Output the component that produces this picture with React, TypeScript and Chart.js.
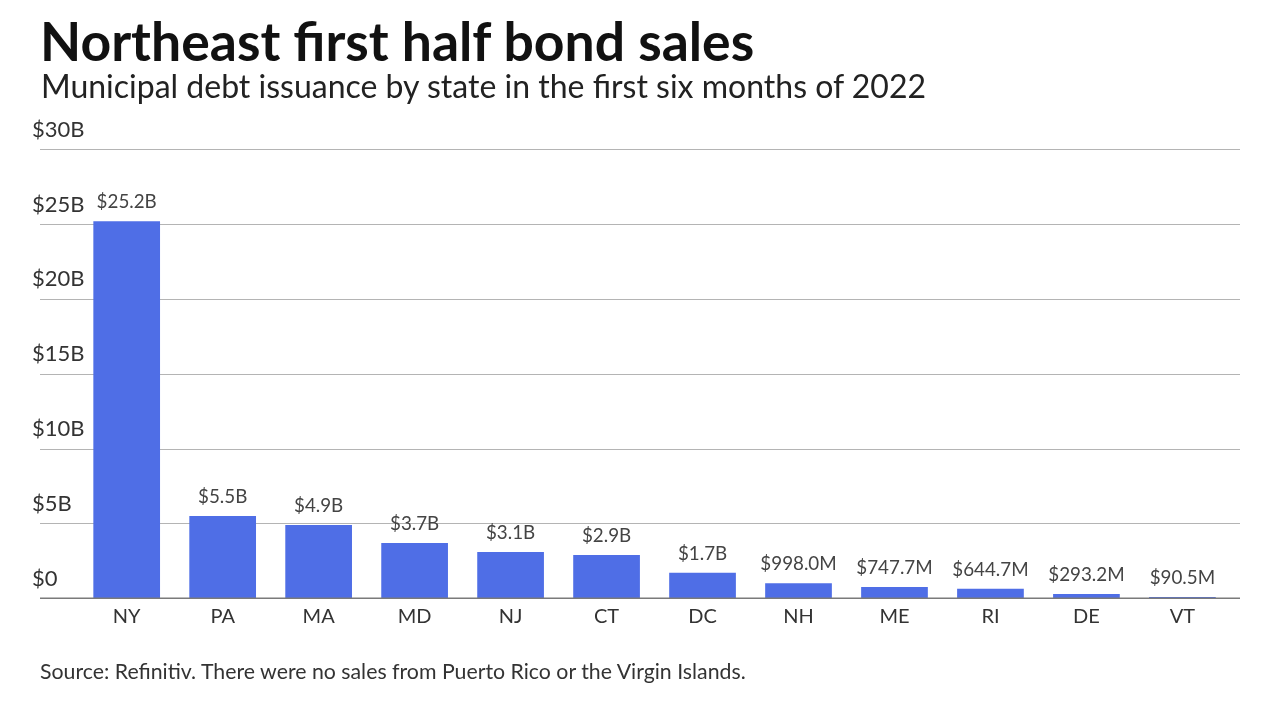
import React, { useEffect, useRef } from "react";
import { Chart, registerables } from "chart.js";

Chart.register(...registerables);

const states = ["NY", "PA", "MA", "MD", "NJ", "CT", "DC", "NH", "ME", "RI", "DE", "VT"];
const issuanceBillions = [25.2, 5.5, 4.9, 3.7, 3.1, 2.9, 1.7, 0.998, 0.7477, 0.6447, 0.2932, 0.0905];
const yTickValues = [0, 5, 10, 15, 20, 25, 30];
const yTickLabels = ["$0", "$5B", "$10B", "$15B", "$20B", "$25B", "$30B"];

const TITLE = "Northeast first half bond sales";
const SUBTITLE = "Municipal debt issuance by state in the first six months of 2022";
const SOURCE = "Source: Refinitiv. There were no sales from Puerto Rico or the Virgin Islands.";

const BAR_COLOR = "rgb(79,110,230)";
const FONT = "Lato, 'Open Sans', sans-serif";

function fmt(v: number): string {
  if (v >= 1) return "$" + v.toFixed(1) + "B";
  return "$" + (v * 1000).toFixed(1) + "M";
}

const overlayPlugin = {
  id: "overlay",
  beforeDatasetsDraw(chart: any) {
    const ctx = chart.ctx;
    const y = chart.scales.y;
    ctx.save();
    yTickValues.forEach((v) => {
      if (v === 0) return;
      const py = Math.round(y.getPixelForValue(v)) + 0.5;
      ctx.strokeStyle = "#b4b4b4";
      ctx.lineWidth = 1.2;
      ctx.beginPath();
      ctx.moveTo(40, py);
      ctx.lineTo(1240, py);
      ctx.stroke();
    });
    ctx.restore();
  },
  afterDatasetsDraw(chart: any) {
    const ctx = chart.ctx;
    const y = chart.scales.y;
    const x = chart.scales.x;
    ctx.save();
    // baseline
    const py0 = y.getPixelForValue(0);
    ctx.strokeStyle = "#7a7a7a";
    ctx.lineWidth = 1.6;
    ctx.beginPath();
    ctx.moveTo(40, py0);
    ctx.lineTo(1240, py0);
    ctx.stroke();
    // y tick labels
    ctx.fillStyle = "#333333";
    ctx.font = `22px ${FONT}`;
    ctx.textAlign = "left";
    ctx.textBaseline = "alphabetic";
    yTickValues.forEach((v, i) => {
      const py = y.getPixelForValue(v);
      ctx.fillText(yTickLabels[i], 32, py - 12.6);
    });
    // x category labels
    ctx.fillStyle = "#333333";
    ctx.font = `20px ${FONT}`;
    ctx.textAlign = "center";
    states.forEach((s, i) => {
      ctx.fillText(s, x.getPixelForValue(i), py0 + 25);
    });
    // data labels
    const meta = chart.getDatasetMeta(0);
    ctx.fillStyle = "#444444";
    ctx.font = `18.8px ${FONT}`;
    ctx.textAlign = "center";
    meta.data.forEach((bar: any, i: number) => {
      ctx.fillText(fmt(issuanceBillions[i]), bar.x, bar.y - 13);
    });
    ctx.restore();
  },
};

export default function App() {
  const ref = useRef<HTMLCanvasElement | null>(null);
  useEffect(() => {
    if (!ref.current) return;
    const chart = new Chart(ref.current, {
      type: "bar",
      data: {
        labels: states,
        datasets: [
          {
            data: issuanceBillions,
            backgroundColor: BAR_COLOR,
            borderWidth: 0,
            barPercentage: 0.695,
            categoryPercentage: 1,
          },
        ],
      },
      options: {
        responsive: false,
        animation: false,
        devicePixelRatio: 1,
        layout: { padding: { left: 78.7, right: 49.6, top: 149.3, bottom: 81.7 } },
        plugins: { legend: { display: false }, tooltip: { enabled: false }, title: { display: false } },
        scales: {
          x: {
            grid: { display: false, drawTicks: false },
            border: { display: false },
            ticks: { display: false },
            afterFit: (s: any) => {
              s.height = 40;
            },
          },
          y: { display: false, min: 0, max: 30 },
        },
      },
      plugins: [overlayPlugin],
    });
    return () => chart.destroy();
  }, []);

  return (
    <div style={{ position: "absolute", left: 0, top: 0, width: 1280, height: 720, background: "#fff", fontFamily: FONT }}>
      <canvas ref={ref} width={1280} height={720} style={{ position: "absolute", left: 0, top: 0, width: 1280, height: 720 }} />
      <div style={{ position: "absolute", left: 40, top: 14.2, fontSize: 53.5, lineHeight: "53.5px", fontWeight: 700, color: "#111", whiteSpace: "nowrap" }}>
        {TITLE}
      </div>
      <div style={{ position: "absolute", left: 41, top: 70, fontSize: 32, lineHeight: "32px", color: "#222", whiteSpace: "nowrap" }}>
        {SUBTITLE}
      </div>
      <div style={{ position: "absolute", left: 40, top: 661, fontSize: 21.3, lineHeight: "21.3px", color: "#333", whiteSpace: "nowrap" }}>
        {SOURCE}
      </div>
    </div>
  );
}
